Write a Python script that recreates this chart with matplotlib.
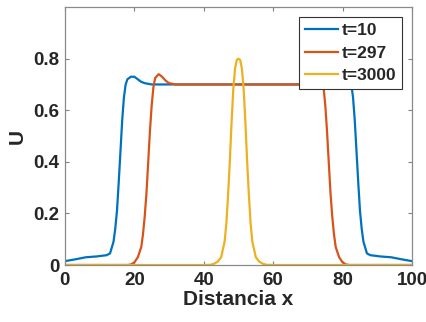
import matplotlib
matplotlib.use("Agg")
import matplotlib.pyplot as plt

# ---- data ----
x_t10 = [0, 3, 6, 9, 12, 13, 14, 14.5, 15, 15.5, 16, 16.5, 17, 17.5, 18, 19, 20, 21, 22, 23, 25, 30,
         50, 70, 75, 77, 78, 79, 80, 81, 82, 82.5, 83, 83.5, 84, 84.5, 85, 85.5, 86, 87, 88, 91, 94, 97, 100]
u_t10 = [0.015, 0.022, 0.03, 0.033, 0.038, 0.045, 0.09, 0.14, 0.21, 0.32, 0.44, 0.56, 0.65, 0.70, 0.72, 0.73, 0.73, 0.72, 0.71, 0.705, 0.70, 0.70,
         0.70, 0.70, 0.70, 0.705, 0.71, 0.72, 0.73, 0.73, 0.72, 0.70, 0.65, 0.56, 0.44, 0.32, 0.21, 0.14, 0.09, 0.045, 0.038, 0.033, 0.03, 0.022, 0.015]

x_t297 = [0, 18, 19, 20, 21, 22, 22.5, 23, 23.5, 24, 24.5, 25, 25.5, 26, 27, 28, 29, 30, 32,
          50, 68, 70, 71, 72, 73, 74, 74.5, 75, 75.5, 76, 76.5, 77, 77.5, 78, 79, 80, 81, 82, 100]
u_t297 = [0, 0, 0.002, 0.01, 0.03, 0.07, 0.12, 0.19, 0.28, 0.40, 0.52, 0.62, 0.69, 0.725, 0.74, 0.73, 0.715, 0.705, 0.70,
          0.70, 0.70, 0.705, 0.715, 0.73, 0.74, 0.725, 0.69, 0.62, 0.52, 0.40, 0.28, 0.19, 0.12, 0.07, 0.03, 0.01, 0.002, 0, 0]

x_t3000 = [0, 40, 42, 43, 44, 45, 46, 46.5, 47, 47.5, 48, 48.5, 49, 49.5, 50,
           50.5, 51, 51.5, 52, 52.5, 53, 53.5, 54, 55, 56, 57, 58, 60, 100]
u_t3000 = [0, 0, 0.001, 0.005, 0.013, 0.03, 0.09, 0.16, 0.27, 0.40, 0.55, 0.68, 0.76, 0.795, 0.80,
           0.795, 0.76, 0.68, 0.55, 0.40, 0.27, 0.16, 0.09, 0.03, 0.013, 0.005, 0.001, 0, 0]

labels = ["t=10", "t=297", "t=3000"]
colors = ["#0072BD", "#D95319", "#EDB120"]
xticks = [0, 20, 40, 60, 80, 100]
yticks = [0, 0.2, 0.4, 0.6, 0.8]
ytick_labels = ["0", "0.2", "0.4", "0.6", "0.8"]

plt.rcParams['font.family'] = ['Liberation Sans', 'DejaVu Sans']
plt.rcParams['font.weight'] = 'bold'

fig = plt.figure(figsize=(4.27, 3.22), dpi=100)
ax = fig.add_axes([0.152, 0.177, 0.813, 0.801])

for xs, us, lab, c in zip([x_t10, x_t297, x_t3000], [u_t10, u_t297, u_t3000], labels, colors):
    ax.plot(xs, us, color=c, lw=1.6, label=lab)

ax.set_xlim(0, 100)
ax.set_ylim(0, 1)
ax.set_xticks(xticks)
ax.set_yticks(yticks)
ax.set_yticklabels(ytick_labels)
ax.tick_params(direction='in', length=3, width=0.8, color='#7f7f7f',
               top=True, right=True, labelsize=13.5, labelcolor='#262626')
ax.tick_params(axis='x', pad=5)
ax.tick_params(axis='y', pad=4)
for lab in ax.get_xticklabels() + ax.get_yticklabels():
    lab.set_fontweight('bold')
for s in ax.spines.values():
    s.set_color('#8a8a8a')
    s.set_linewidth(0.9)

ax.set_xlabel("Distancia x", fontsize=15, fontweight='bold', color='#262626', labelpad=1)
ax.set_ylabel("U", fontsize=15, fontweight='bold', color='#262626', labelpad=5)

leg = ax.legend(loc='upper right', bbox_to_anchor=(0.971, 0.961), borderaxespad=0,
                prop={'weight': 'bold', 'size': 12.5}, fancybox=False,
                framealpha=1, edgecolor='#333333', handlelength=1.9, handletextpad=0.2,
                borderpad=0.35, labelspacing=0.42)
leg.get_frame().set_linewidth(0.8)
for t in leg.get_texts():
    t.set_color('#262626')

fig.savefig("out.png", dpi=100)
